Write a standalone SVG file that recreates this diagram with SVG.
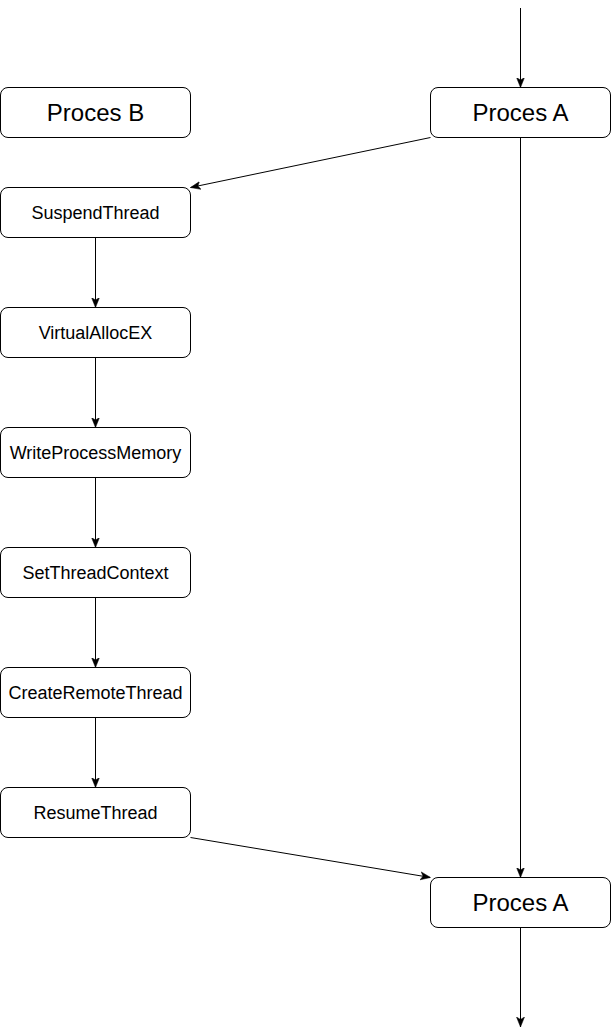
<svg xmlns="http://www.w3.org/2000/svg" width="611" height="1036" viewBox="0 0 611 1036">
<style>
.box{fill:#fff;stroke:#000;stroke-width:1}
.big{font-family:"Liberation Sans",Arial,sans-serif;font-size:24px;fill:#000;text-anchor:middle}
.sm{font-family:"Liberation Sans",Arial,sans-serif;font-size:18px;fill:#000;text-anchor:middle}
.edge{fill:none;stroke:#000;stroke-width:1}
</style>
<defs>
<marker id="arr" viewBox="0 0 10 10" refX="10" refY="5" markerWidth="10" markerHeight="10" markerUnits="userSpaceOnUse" orient="auto">
<path d="M0,1 L10,5 L0,9 L2.5,5 Z" fill="#000" stroke="#000" stroke-width="0.5"/>
</marker>
</defs>
<rect width="611" height="1036" fill="#fff"/>
<g id="connectors">
<path class="edge" d="M520.5,8 L520.5,87.5" marker-end="url(#arr)"/>
<path class="edge" d="M520.5,137.5 L520.5,877.5" marker-end="url(#arr)"/>
<path class="edge" d="M520.5,927.5 L520.5,1027" marker-end="url(#arr)"/>
<path class="edge" d="M430.5,137.5 L190.5,187.5" marker-end="url(#arr)"/>
<path class="edge" d="M95.5,237.5 L95.5,307.5" marker-end="url(#arr)"/>
<path class="edge" d="M95.5,357.5 L95.5,427.5" marker-end="url(#arr)"/>
<path class="edge" d="M95.5,477.5 L95.5,547.5" marker-end="url(#arr)"/>
<path class="edge" d="M95.5,597.5 L95.5,667.5" marker-end="url(#arr)"/>
<path class="edge" d="M95.5,717.5 L95.5,787.5" marker-end="url(#arr)"/>
<path class="edge" d="M190.5,837.5 L430.5,877.5" marker-end="url(#arr)"/>
</g>
<g id="procesB"><rect class="box" x="0.5" y="87.5" width="190" height="50" rx="7.5"/><text class="big" x="95.5" y="121">Proces B</text></g>
<g id="procesA1"><rect class="box" x="430.5" y="87.5" width="180" height="50" rx="7.5"/><text class="big" x="520.5" y="121">Proces A</text></g>
<g id="suspend"><rect class="box" x="0.5" y="187.5" width="190" height="50" rx="7.5"/><text class="sm" x="95.5" y="219">SuspendThread</text></g>
<g id="virtualalloc"><rect class="box" x="0.5" y="307.5" width="190" height="50" rx="7.5"/><text class="sm" x="95.5" y="339">VirtualAllocEX</text></g>
<g id="writeprocess"><rect class="box" x="0.5" y="427.5" width="190" height="50" rx="7.5"/><text class="sm" x="95.5" y="459">WriteProcessMemory</text></g>
<g id="setthread"><rect class="box" x="0.5" y="547.5" width="190" height="50" rx="7.5"/><text class="sm" x="95.5" y="579">SetThreadContext</text></g>
<g id="createremote"><rect class="box" x="0.5" y="667.5" width="190" height="50" rx="7.5"/><text class="sm" x="95.5" y="699">CreateRemoteThread</text></g>
<g id="resume"><rect class="box" x="0.5" y="787.5" width="190" height="50" rx="7.5"/><text class="sm" x="95.5" y="819">ResumeThread</text></g>
<g id="procesA2"><rect class="box" x="430.5" y="877.5" width="180" height="50" rx="7.5"/><text class="big" x="520.5" y="911">Proces A</text></g>
</svg>
